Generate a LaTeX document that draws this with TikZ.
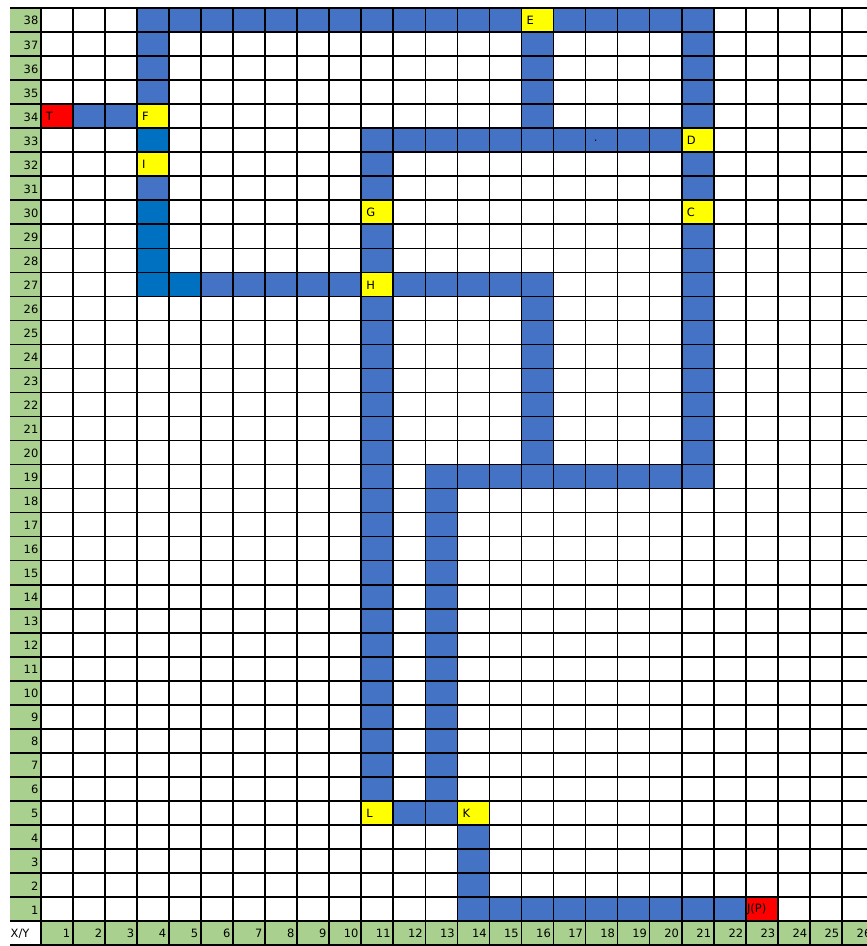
\documentclass[tikz,border=0pt]{standalone}
\usepackage{fontspec}
\setmainfont{DejaVu Sans}
\definecolor{cblue}{HTML}{4472C4}
\definecolor{cdark}{HTML}{0070C0}
\definecolor{cyel}{HTML}{FFFF00}
\definecolor{cred}{HTML}{FF0000}
\definecolor{cgreen}{HTML}{A9D08E}
\newcommand\gcell[3]{\fill[#3] ({40.7+(#1-1)*32.05},{8+(38-#2)*24.03}) rectangle ++(32.05,24.03);}
\newcommand\glab[4]{\node[lab] (#4) at ({40.7+(#1-1)*32.05+5},{8+(38-#2)*24.03+12.5}) {#3};}
\begin{document}
\begin{tikzpicture}[x=1bp,y=-1bp,
  lab/.style={anchor=west, inner sep=0pt, font=\fontsize{11.5}{11.5}\selectfont},
  numlab/.style={anchor=east, inner sep=0pt, font=\fontsize{11.5}{11.5}\selectfont},
  gridline/.style={line width=1.6bp, black}]
\useasboundingbox (0,0) rectangle (867,946);
\clip (0,0) rectangle (867,946);
\fill[white] (0,0) rectangle (867,946);
% header fills
\fill[cgreen] (10,8) rectangle (40.7,921.1);
\fill[cgreen] (40.7,921.1) rectangle (874,945.2);
% path cells
\foreach \c in {4,...,21} {\gcell{\c}{38}{cblue}}
\foreach \r in {35,36,37,31} {\gcell{4}{\r}{cblue}}
\foreach \r in {33,30,29,28,27} {\gcell{4}{\r}{cdark}}
\gcell{5}{27}{cdark}
\foreach \c in {6,...,16} {\gcell{\c}{27}{cblue}}
\foreach \c in {2,3} {\gcell{\c}{34}{cblue}}
\foreach \r in {34,...,37} {\gcell{16}{\r}{cblue}}
\foreach \c in {11,...,20} {\gcell{\c}{33}{cblue}}
\foreach \r in {19,...,37} {\gcell{21}{\r}{cblue}}
\foreach \r in {6,...,32} {\gcell{11}{\r}{cblue}}
\foreach \r in {20,...,26} {\gcell{16}{\r}{cblue}}
\foreach \c in {13,...,21} {\gcell{\c}{19}{cblue}}
\foreach \r in {6,...,18} {\gcell{13}{\r}{cblue}}
\foreach \c in {12,13} {\gcell{\c}{5}{cblue}}
\foreach \r in {2,3,4} {\gcell{14}{\r}{cblue}}
\foreach \c in {14,...,22} {\gcell{\c}{1}{cblue}}
% special cells
\gcell{1}{34}{cred}
\gcell{23}{1}{cred}
\gcell{16}{38}{cyel}
\gcell{4}{34}{cyel}
\gcell{4}{32}{cyel}
\gcell{21}{33}{cyel}
\gcell{21}{30}{cyel}
\gcell{11}{30}{cyel}
\gcell{11}{27}{cyel}
\gcell{11}{5}{cyel}
\gcell{14}{5}{cyel}
% grid
\foreach \i in {0,...,39} {\draw[gridline] (10,{8+\i*24.03}) -- (874,{8+\i*24.03});}
\foreach \j in {0,...,26} {\draw[gridline] ({40.7+\j*32.05},8) -- ({40.7+\j*32.05},945.2);}
% labels
\glab{1}{34}{T}{T}
\glab{4}{34}{F}{F}
\glab{4}{32}{I}{I}
\glab{16}{38}{E}{E}
\glab{21}{33}{D}{D}
\glab{21}{30}{C}{C}
\glab{11}{30}{G}{G}
\glab{11}{27}{H}{H}
\glab{11}{5}{L}{L}
\glab{14}{5}{K}{K}
\node[lab] (J) at ({40.7+22*32.05+1},{8+37*24.03+12.5}) {J(P)};
\node[lab] (dot) at ({40.7+17*32.05+8},{8+5*24.03+12.5}) {.};
\foreach \r in {1,...,38} {\node[numlab] (r\r) at (38.5,{8+(38-\r)*24.03+12.8}) {\r};}
\foreach \c in {1,...,26} {\node[numlab] (c\c) at ({40.7+\c*32.05-2.5},933.5) {\c};}
\begin{scope}
\clip (10,921.1) rectangle (40,945.2);
\node[lab] (xy) at (10.5,933.5) {X/Y};
\end{scope}
\end{tikzpicture}
\end{document}
